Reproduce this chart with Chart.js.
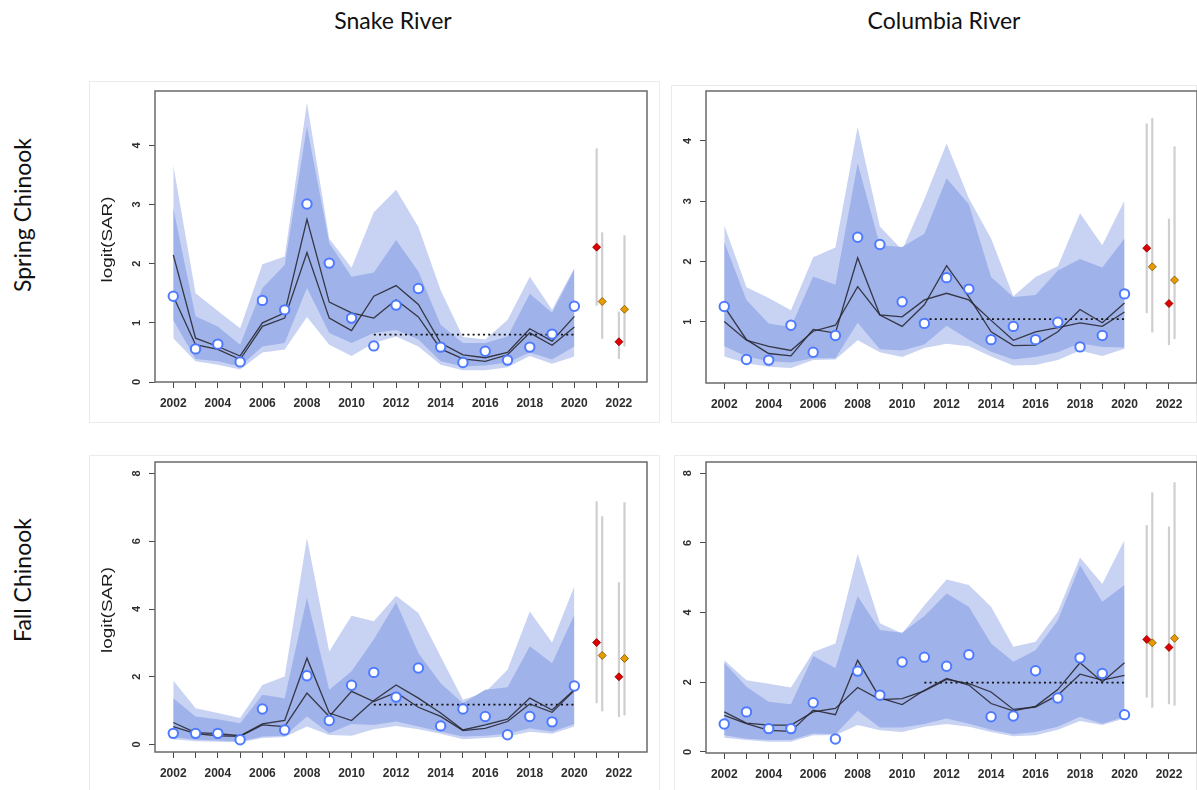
<!DOCTYPE html>
<html>
<head>
<meta charset="utf-8">
<script src="https://cdn.jsdelivr.net/npm/chart.js@4.4.1/dist/chart.umd.min.js"></script>
<style>
  html, body { margin: 0; padding: 0; background: #fff; }
  body { width: 1197px; height: 790px; overflow: hidden; position: relative; }
  .frame { position: absolute; border: 1px solid #ebebeb; background: #fff; box-sizing: border-box; }
  .col-title, .row-title {
    position: absolute; font-family: Lato, "Open Sans", sans-serif; font-size: 23px; color: #111;
    white-space: nowrap; transform: translate(-50%, -50%);
  }
  .row-title { transform: translate(-50%, -50%) rotate(-90deg); }
  canvas { position: absolute; }
</style>
</head>
<body>
<div class="frame" style="left:89px;top:81px;width:571px;height:342px"></div>
<div class="frame" style="left:671px;top:85px;width:526px;height:338px"></div>
<div class="frame" style="left:89px;top:455px;width:571px;height:340px"></div>
<div class="frame" style="left:674px;top:455px;width:523px;height:340px"></div>

<div class="col-title" style="left:393px;top:20px">Snake River</div>
<div class="col-title" style="left:944px;top:20px">Columbia River</div>
<div class="row-title" style="left:22px;top:215px">Spring Chinook</div>
<div class="row-title" style="left:22px;top:580px">Fall Chinook</div>

<canvas id="snakeSpring"></canvas>
<canvas id="columbiaSpring"></canvas>
<canvas id="snakeFall"></canvas>
<canvas id="columbiaFall"></canvas>

<script>
// Brood years with fitted values, and the axis ticks
const years = [2002, 2003, 2004, 2005, 2006, 2007, 2008, 2009, 2010, 2011,
               2012, 2013, 2014, 2015, 2016, 2017, 2018, 2019, 2020];
const tickYears = [2002, 2003, 2004, 2005, 2006, 2007, 2008, 2009, 2010, 2011, 2012,
                   2013, 2014, 2015, 2016, 2017, 2018, 2019, 2020, 2021, 2022];
const tickYearLabels = ['2002', '', '2004', '', '2006', '', '2008', '', '2010', '', '2012',
                        '', '2014', '', '2016', '', '2018', '', '2020', '', '2022'];
const springSnakeYTicks = [0, 1, 2, 3, 4];
const springColumbiaYTicks = [1, 2, 3, 4];
const fallYTicks = [0, 2, 4, 6, 8];

// Forecast years: two model variants per year, offset slightly
const forecastX = [2021, 2021.25, 2022, 2022.25];

// ---- Snake River, spring Chinook ----
const snakeSpringObs    = [1.45, 0.56, 0.64, 0.34, 1.38, 1.22, 3.01, 2.01, 1.08, 0.61, 1.30, 1.58, 0.59, 0.33, 0.52, 0.37, 0.59, 0.81, 1.28];
const snakeSpringFitA   = [2.15, 0.74, 0.60, 0.44, 1.00, 1.17, 2.75, 1.35, 1.17, 1.08, 1.39, 1.10, 0.56, 0.39, 0.35, 0.46, 0.83, 0.62, 0.93];
const snakeSpringFitB   = [1.45, 0.63, 0.55, 0.38, 0.94, 1.08, 2.19, 1.08, 0.87, 1.45, 1.63, 1.31, 0.66, 0.46, 0.41, 0.50, 0.90, 0.69, 1.11];
const snakeSpringOuterHi = [3.67, 1.50, 1.20, 0.91, 1.99, 2.12, 4.72, 2.42, 1.93, 2.87, 3.25, 2.62, 1.55, 0.76, 0.72, 1.05, 1.78, 1.22, 1.93];
const snakeSpringInnerHi = [2.94, 1.11, 0.94, 0.63, 1.59, 1.98, 4.32, 2.35, 1.78, 1.85, 2.40, 1.87, 0.97, 0.66, 0.66, 0.77, 1.49, 1.17, 1.90];
const snakeSpringInnerLo = [1.05, 0.39, 0.35, 0.26, 0.60, 0.66, 1.59, 0.83, 0.66, 0.83, 0.88, 0.72, 0.35, 0.26, 0.28, 0.33, 0.50, 0.38, 0.60];
const snakeSpringOuterLo = [0.74, 0.35, 0.29, 0.21, 0.50, 0.55, 1.10, 0.63, 0.44, 0.66, 0.77, 0.60, 0.29, 0.20, 0.20, 0.25, 0.44, 0.31, 0.43];
const snakeSpringMean = 0.80;
const snakeSpringFc   = [2.28, 1.36, 0.68, 1.23];
const snakeSpringFcLo = [1.29, 0.73, 0.39, 0.60];
const snakeSpringFcHi = [3.95, 2.53, 1.19, 2.48];

// ---- Columbia River, spring Chinook ----
const columbiaSpringObs    = [1.25, 0.37, 0.36, 0.94, 0.49, 0.77, 2.40, 2.28, 1.33, 0.97, 1.73, 1.54, 0.70, 0.92, 0.70, 0.99, 0.58, 0.77, 1.46];
const columbiaSpringFitA   = [1.00, 0.69, 0.59, 0.52, 0.84, 0.94, 1.58, 1.11, 1.08, 1.36, 1.47, 1.36, 1.02, 0.69, 0.83, 0.90, 0.98, 0.92, 1.16];
const columbiaSpringFitB   = [1.25, 0.70, 0.47, 0.43, 0.87, 0.81, 2.06, 1.11, 0.92, 1.28, 1.93, 1.41, 0.83, 0.60, 0.61, 0.83, 1.20, 0.98, 1.31];
const columbiaSpringOuterHi = [2.60, 1.57, 1.39, 1.19, 2.07, 2.23, 4.23, 2.58, 2.19, 3.03, 3.96, 3.05, 2.38, 1.42, 1.74, 1.92, 2.80, 2.27, 3.01];
const columbiaSpringInnerHi = [2.32, 1.36, 0.97, 0.91, 1.75, 1.61, 3.63, 2.27, 2.24, 2.46, 3.38, 2.95, 1.74, 1.41, 1.44, 1.85, 2.04, 1.90, 2.38];
const columbiaSpringInnerLo = [0.59, 0.42, 0.34, 0.32, 0.39, 0.39, 0.98, 0.54, 0.52, 0.62, 0.93, 0.70, 0.50, 0.37, 0.41, 0.49, 0.64, 0.58, 0.57];
const columbiaSpringOuterLo = [0.42, 0.31, 0.25, 0.23, 0.36, 0.37, 0.69, 0.49, 0.41, 0.56, 0.63, 0.59, 0.42, 0.27, 0.28, 0.36, 0.52, 0.43, 0.55];
const columbiaSpringMean = 1.04;
const columbiaSpringFc   = [2.22, 1.91, 1.30, 1.69];
const columbiaSpringFcLo = [1.14, 0.82, 0.61, 0.71];
const columbiaSpringFcHi = [4.29, 4.38, 2.71, 3.91];

// ---- Snake River, fall Chinook ----
const snakeFallObs    = [0.33, 0.33, 0.33, 0.14, 1.05, 0.43, 2.03, 0.71, 1.75, 2.13, 1.40, 2.26, 0.55, 1.05, 0.83, 0.29, 0.83, 0.67, 1.73];
const snakeFallFitA   = [0.65, 0.35, 0.32, 0.26, 0.61, 0.71, 2.55, 0.93, 0.71, 1.30, 1.76, 1.37, 0.93, 0.43, 0.58, 0.75, 1.37, 1.02, 1.62];
const snakeFallFitB   = [0.53, 0.32, 0.26, 0.24, 0.58, 0.53, 1.52, 0.83, 1.57, 1.27, 1.54, 1.10, 0.83, 0.41, 0.48, 0.68, 1.20, 0.95, 1.60];
const snakeFallOuterHi = [1.89, 1.07, 0.93, 0.78, 1.76, 2.01, 6.10, 2.75, 3.80, 3.64, 4.39, 3.88, 2.60, 1.32, 1.54, 2.21, 3.93, 3.01, 4.67];
const snakeFallInnerHi = [1.37, 0.83, 0.75, 0.63, 1.47, 1.37, 4.33, 1.62, 2.16, 3.11, 4.20, 2.70, 1.81, 1.22, 1.62, 1.69, 2.90, 2.40, 3.83];
const snakeFallInnerLo = [0.22, 0.14, 0.12, 0.09, 0.24, 0.26, 0.83, 0.33, 0.61, 0.58, 0.68, 0.53, 0.38, 0.24, 0.26, 0.32, 0.48, 0.38, 0.61];
const snakeFallOuterLo = [0.16, 0.10, 0.08, 0.06, 0.19, 0.22, 0.53, 0.28, 0.26, 0.45, 0.55, 0.45, 0.32, 0.16, 0.19, 0.24, 0.38, 0.32, 0.53];
const snakeFallMean = 1.18;
const snakeFallFc   = [3.01, 2.63, 2.00, 2.54];
const snakeFallFcLo = [1.22, 0.98, 0.81, 0.86];
const snakeFallFcHi = [7.18, 6.74, 4.79, 7.15];

// ---- Columbia River, fall Chinook ----
const columbiaFallObs    = [0.80, 1.15, 0.67, 0.67, 1.41, 0.37, 2.32, 1.63, 2.58, 2.72, 2.46, 2.79, 1.01, 1.03, 2.33, 1.55, 2.70, 2.25, 1.07];
const columbiaFallFitA   = [1.15, 0.83, 0.77, 0.77, 1.15, 1.25, 1.85, 1.50, 1.53, 1.75, 2.08, 1.96, 1.72, 1.22, 1.29, 1.63, 2.23, 2.06, 2.20];
const columbiaFallFitB   = [1.05, 0.81, 0.62, 0.59, 1.20, 1.07, 2.63, 1.55, 1.36, 1.77, 2.11, 1.92, 1.39, 1.18, 1.31, 1.79, 2.56, 2.01, 2.56];
const columbiaFallOuterHi = [2.63, 2.06, 1.96, 1.85, 2.87, 3.11, 5.68, 3.69, 3.40, 4.21, 4.95, 4.79, 4.17, 3.02, 3.16, 4.02, 5.58, 4.82, 6.08];
const columbiaFallInnerHi = [2.56, 1.87, 1.44, 1.37, 2.75, 2.41, 4.47, 3.50, 3.42, 3.90, 4.55, 4.17, 3.11, 2.59, 2.92, 3.78, 5.36, 4.31, 4.79];
const columbiaFallInnerLo = [0.48, 0.38, 0.34, 0.34, 0.53, 0.51, 1.18, 0.70, 0.70, 0.80, 0.96, 0.81, 0.64, 0.51, 0.57, 0.72, 1.01, 0.81, 1.01];
const columbiaFallOuterLo = [0.41, 0.34, 0.29, 0.29, 0.48, 0.48, 0.77, 0.62, 0.57, 0.72, 0.80, 0.72, 0.57, 0.45, 0.48, 0.64, 0.89, 0.77, 0.96];
const columbiaFallMean = 1.99;
const columbiaFallFc   = [3.23, 3.13, 3.00, 3.26];
const columbiaFallFcLo = [1.56, 1.27, 1.37, 1.33];
const columbiaFallFcHi = [6.51, 7.45, 6.47, 7.74];

// ---- drawing ----
const AXIS_W = 70, TOP_PAD = 12, RIGHT_PAD = 16, AXIS_H = 40;
const X_MIN = 2001.18, X_MAX = 2023.26;
const OUTER_FILL = 'rgb(200, 211, 244)';
const INNER_FILL = 'rgb(160, 178, 234)';
const FIT_LINE = 'rgba(38, 38, 45, 0.88)';
const OBS_RING = 'rgb(78, 122, 255)';
const FC_FILL = ['#e00000', '#e89b00', '#e00000', '#e89b00'];
const FC_EDGE = ['#7a0000', '#7a5200', '#7a0000', '#7a5200'];
const TEXT_FONT = '"Liberation Sans", Arial, sans-serif';
const TICK_COLOR = '#2e2e2e';

const series = arr => years.map((x, i) => ({ x, y: arr[i] }));

// Box around the plot region, rotated y tick labels and the y-axis title
const rStyleFrame = {
  id: 'rStyleFrame',
  afterDraw(chart, args, opts) {
    const { ctx, chartArea: a } = chart;
    const y = chart.scales.y;
    ctx.save();
    ctx.strokeStyle = '#6a6a6a';
    ctx.lineWidth = 1.5;
    ctx.strokeRect(a.left, a.top, a.right - a.left, a.bottom - a.top);

    ctx.fillStyle = TICK_COLOR;
    ctx.font = 'bold 11px ' + TEXT_FONT;
    ctx.textAlign = 'center';
    ctx.textBaseline = 'middle';
    y.ticks.forEach(t => {
      ctx.save();
      ctx.translate(a.left - 18, y.getPixelForValue(t.value));
      ctx.rotate(-Math.PI / 2);
      ctx.fillText(String(t.value), 0, 0);
      ctx.restore();
    });

    if (opts.title) {
      ctx.fillStyle = '#1c1c1c';
      ctx.font = '14px ' + TEXT_FONT;
      const w = ctx.measureText(opts.title).width;
      ctx.translate(a.left - 47, (a.top + a.bottom) / 2 + 3);
      ctx.rotate(-Math.PI / 2);
      ctx.scale(86 / w, 1);
      ctx.fillText(opts.title, 0, 0);
    }
    ctx.restore();
  }
};

function drawPanel(id, box, yRange, yTicks, d, yTitle) {
  const [left, top, right, bottom] = box;
  const cv = document.getElementById(id);
  cv.width = right - left + AXIS_W + RIGHT_PAD;
  cv.height = bottom - top + TOP_PAD + AXIS_H;
  cv.style.left = (left - AXIS_W) + 'px';
  cv.style.top = (top - TOP_PAD) + 'px';

  const whisker = (i) => ({
    data: [{ x: forecastX[i], y: d.fcLo[i] }, { x: forecastX[i], y: d.fcHi[i] }],
    borderColor: '#cfcfcf', borderWidth: 2.2, pointRadius: 0, order: 2
  });

  const datasets = [
    { data: series(d.obs), showLine: false, pointRadius: 4.7, pointBackgroundColor: '#fff',
      pointBorderColor: OBS_RING, pointBorderWidth: 2, order: 0 },
    { data: forecastX.map((x, i) => ({ x, y: d.fc[i] })), showLine: false, pointStyle: 'rectRot',
      pointRadius: 4, pointBackgroundColor: FC_FILL, pointBorderColor: FC_EDGE, pointBorderWidth: 0.8, order: 1 },
    whisker(0), whisker(1), whisker(2), whisker(3),
    { data: series(d.fitA), borderColor: FIT_LINE, borderWidth: 1.3, pointRadius: 0, order: 3 },
    { data: series(d.fitB), borderColor: FIT_LINE, borderWidth: 1.3, pointRadius: 0, order: 3 },
    { data: [{ x: 2011, y: d.mean }, { x: 2020, y: d.mean }], borderColor: '#111', borderWidth: 1.7,
      borderDash: [2, 3.2], pointRadius: 0, order: 3 },
    { data: series(d.innerHi), fill: '+1', backgroundColor: INNER_FILL, borderWidth: 0,
      borderColor: 'transparent', pointRadius: 0, order: 5 },
    { data: series(d.innerLo), fill: false, borderWidth: 0, borderColor: 'transparent', pointRadius: 0, order: 5 },
    { data: series(d.outerHi), fill: '+1', backgroundColor: OUTER_FILL, borderWidth: 0,
      borderColor: 'transparent', pointRadius: 0, order: 6 },
    { data: series(d.outerLo), fill: false, borderWidth: 0, borderColor: 'transparent', pointRadius: 0, order: 6 }
  ];

  const tickGrid = { drawOnChartArea: false, drawTicks: true, tickLength: 6, color: '#4a4a4a', lineWidth: 1 };

  new Chart(cv, {
    type: 'line',
    data: { datasets },
    plugins: [rStyleFrame],
    options: {
      responsive: false, animation: false, devicePixelRatio: 1, events: [],
      layout: { autoPadding: false, padding: { left: 0, top: TOP_PAD, right: RIGHT_PAD, bottom: 0 } },
      elements: { line: { tension: 0 } },
      plugins: { legend: { display: false }, tooltip: { enabled: false }, rStyleFrame: { title: yTitle } },
      scales: {
        x: {
          type: 'linear', min: X_MIN, max: X_MAX,
          afterBuildTicks: s => { s.ticks = tickYears.map(v => ({ value: v })); },
          afterFit: s => { s.height = AXIS_H; },
          ticks: { autoSkip: false, minRotation: 0, maxRotation: 0, padding: 8, color: TICK_COLOR,
                   font: { family: TEXT_FONT, size: 12, weight: 'bold' }, callback: (v, i) => tickYearLabels[i] },
          grid: tickGrid, border: { display: false }
        },
        y: {
          type: 'linear', min: yRange[0], max: yRange[1],
          afterBuildTicks: s => { s.ticks = yTicks.map(v => ({ value: v })); },
          afterFit: s => { s.width = AXIS_W; },
          ticks: { display: false },
          grid: tickGrid, border: { display: false }
        }
      }
    }
  });
}

drawPanel('snakeSpring', [155, 91, 647, 382], [0, 4.92], springSnakeYTicks, {
  obs: snakeSpringObs, fitA: snakeSpringFitA, fitB: snakeSpringFitB,
  outerHi: snakeSpringOuterHi, innerHi: snakeSpringInnerHi, innerLo: snakeSpringInnerLo, outerLo: snakeSpringOuterLo,
  mean: snakeSpringMean, fc: snakeSpringFc, fcLo: snakeSpringFcLo, fcHi: snakeSpringFcHi
}, 'logit(SAR)');

drawPanel('columbiaSpring', [706, 91, 1197, 383], [-0.02, 4.83], springColumbiaYTicks, {
  obs: columbiaSpringObs, fitA: columbiaSpringFitA, fitB: columbiaSpringFitB,
  outerHi: columbiaSpringOuterHi, innerHi: columbiaSpringInnerHi, innerLo: columbiaSpringInnerLo, outerLo: columbiaSpringOuterLo,
  mean: columbiaSpringMean, fc: columbiaSpringFc, fcLo: columbiaSpringFcLo, fcHi: columbiaSpringFcHi
}, null);

drawPanel('snakeFall', [155, 462, 647, 752], [-0.22, 8.34], fallYTicks, {
  obs: snakeFallObs, fitA: snakeFallFitA, fitB: snakeFallFitB,
  outerHi: snakeFallOuterHi, innerHi: snakeFallInnerHi, innerLo: snakeFallInnerLo, outerLo: snakeFallOuterLo,
  mean: snakeFallMean, fc: snakeFallFc, fcLo: snakeFallFcLo, fcHi: snakeFallFcHi
}, 'logit(SAR)');

drawPanel('columbiaFall', [706, 462, 1197, 753], [-0.03, 8.32], fallYTicks, {
  obs: columbiaFallObs, fitA: columbiaFallFitA, fitB: columbiaFallFitB,
  outerHi: columbiaFallOuterHi, innerHi: columbiaFallInnerHi, innerLo: columbiaFallInnerLo, outerLo: columbiaFallOuterLo,
  mean: columbiaFallMean, fc: columbiaFallFc, fcLo: columbiaFallFcLo, fcHi: columbiaFallFcHi
}, null);
</script>
</body>
</html>
